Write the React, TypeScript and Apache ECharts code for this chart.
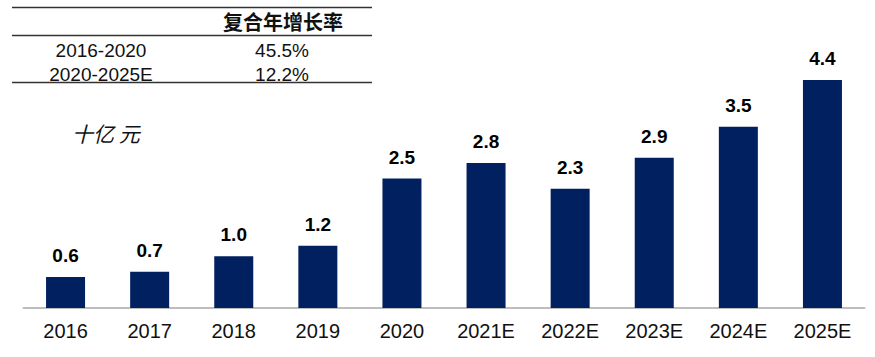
import React, { useEffect, useRef } from "react";
import * as echarts from "echarts";

const categories = ["2016", "2017", "2018", "2019", "2020", "2021E", "2022E", "2023E", "2024E", "2025E"];
const values = [0.6, 0.7, 1.0, 1.2, 2.5, 2.8, 2.3, 2.9, 3.5, 4.4];
const tableHeader = "复合年增长率";
const tablePeriods = ["2016-2020", "2020-2025E"];
const tableRates = ["45.5%", "12.2%"];
const unitLabel = "十亿 元";

export default function App() {
  const ref = useRef<HTMLDivElement>(null);
  useEffect(() => {
    document.body.style.margin = "0";
    const chart = echarts.init(ref.current!, null, { renderer: "svg" });
    const font = "Arial, 'Liberation Sans', 'Noto Sans CJK SC', sans-serif";
    chart.setOption({
      animation: false,
      grid: { left: 23.5, right: 10.5, top: 49, bottom: 49 },
      xAxis: {
        type: "category",
        data: categories,
        axisLine: { lineStyle: { color: "#bdbdbd", width: 2 } },
        axisTick: { show: false },
        axisLabel: { color: "#111", fontSize: 20, fontFamily: font, margin: 13 },
      },
      yAxis: {
        type: "value",
        min: 0,
        max: 5,
        show: false,
        splitLine: { show: false },
      },
      series: [
        {
          type: "bar",
          data: values,
          barWidth: 39,
          itemStyle: { color: "#002060" },
          label: {
            show: true,
            position: "top",
            distance: 12,
            formatter: (p: any) => p.value.toFixed(1),
            color: "#000",
            fontSize: 19,
            fontWeight: "bold",
            fontFamily: font,
          },
        },
      ],
      graphic: [
        { type: "line", shape: { x1: 12, y1: 7.5, x2: 372, y2: 7.5 }, style: { stroke: "#333", lineWidth: 1.5 } },
        { type: "line", shape: { x1: 12, y1: 35.5, x2: 372, y2: 35.5 }, style: { stroke: "#333", lineWidth: 1.5 } },
        { type: "line", shape: { x1: 12, y1: 82.5, x2: 372, y2: 82.5 }, style: { stroke: "#333", lineWidth: 1.5 } },
        {
          type: "text",
          x: 283,
          y: 23,
          style: { text: tableHeader, fill: "#111", font: `bold 20px ${font}`, textAlign: "center", textVerticalAlign: "middle" },
        },
        ...tablePeriods.map((t, i) => ({
          type: "text",
          x: 101,
          y: 50 + i * 24,
          style: { text: t, font: `19px ${font}`, fill: "#111", textAlign: "center", textVerticalAlign: "middle" },
        })),
        ...tableRates.map((t, i) => ({
          type: "text",
          x: 282,
          y: 50 + i * 24,
          style: { text: t, font: `19px ${font}`, fill: "#111", textAlign: "center", textVerticalAlign: "middle" },
        })),
        {
          type: "text",
          x: 72,
          y: 133,
          style: { text: unitLabel, font: `italic 21px 'Noto Sans CJK SC', sans-serif`, fill: "#111", textVerticalAlign: "middle" },
        },
      ],
    });
    return () => chart.dispose();
  }, []);
  return <div ref={ref} style={{ width: 875, height: 357 }} />;
}
